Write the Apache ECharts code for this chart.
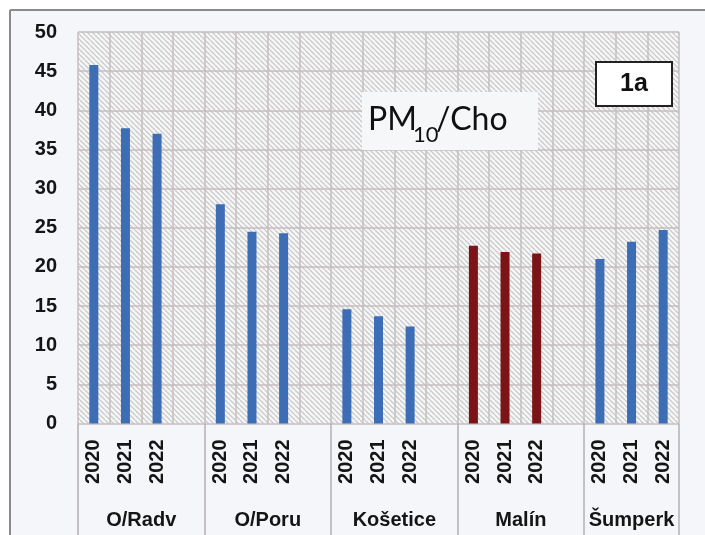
<!DOCTYPE html>
<html>
<head>
<meta charset="utf-8">
<script src="https://cdn.jsdelivr.net/npm/echarts@6/dist/echarts.min.js"></script>
<style>html,body{margin:0;padding:0;background:#fff}#c{width:705px;height:535px}</style>
</head>
<body>
<div id="c"></div>
<script>
// ---- data ----
const groups = ['O/Radv', 'O/Poru', 'Košetice', 'Malín', 'Šumperk'];
const years = ['2020', '2021', '2022'];
const valRadv = [45.8, 37.7, 37.0];
const valPoru = [28.0, 24.5, 24.3];
const valKosetice = [14.6, 13.7, 12.4];
const valMalin = [22.7, 21.9, 21.7];
const valSumperk = [21.0, 23.2, 24.7];
const yTicks = [0, 5, 10, 15, 20, 25, 30, 35, 40, 45, 50];
const highlightGroup = 'Malín';

const groupValues = [valRadv, valPoru, valKosetice, valMalin, valSumperk];

// build slots: 3 years per group + an empty spacer between groups
const cats = [];
const barData = [];
const groupStart = [];
const groupCenter = [];
groups.forEach((g, gi) => {
  groupStart.push(cats.length);
  years.forEach((y, yi) => {
    cats.push(g + '|' + y);
    barData.push({
      value: groupValues[gi][yi],
      itemStyle: { color: g === highlightGroup ? '#7a1416' : '#3d6db5' }
    });
  });
  if (gi < groups.length - 1) {
    cats.push(g + '|');
    barData.push('-');
    groupCenter.push(groupStart[gi] + 2);
  } else {
    groupCenter.push(groupStart[gi] + 1.5);
  }
});
const nSlots = cats.length;
const dividers = groupStart.concat([nSlots]);

// hatch pattern
const pc = document.createElement('canvas');
pc.width = 5; pc.height = 5;
const px = pc.getContext('2d');
px.fillStyle = '#f6f7f8';
px.fillRect(0, 0, 5, 5);
px.strokeStyle = '#cbcaca';
px.lineWidth = 1.3;
for (let k = -5; k <= 10; k += 5) {
  px.beginPath();
  px.moveTo(k, 0);
  px.lineTo(k + 5, 5);
  px.stroke();
}

const chart = echarts.init(document.getElementById('c'), null, { renderer: 'canvas' });
const gridColor = '#c6bebe';
chart.setOption({
  backgroundColor: '#ffffff',
  animation: false,
  graphic: [
    { type: 'rect', z: -10, shape: { x: 10, y: 10, width: 700, height: 530 },
      style: { fill: '#f4f6f9' } },
    { type: 'line', z: 100, shape: { x1: 10, y1: 10, x2: 705, y2: 10 },
      style: { stroke: '#8a8a8a', lineWidth: 2 } },
    { type: 'line', z: 100, shape: { x1: 10, y1: 10, x2: 10, y2: 535 },
      style: { stroke: '#8a8a8a', lineWidth: 2 } },
    { type: 'rect', z: 50, shape: { x: 362, y: 92, width: 176, height: 58 },
      style: { fill: '#f5f7f9' } },
    { type: 'text', z: 51, style: { text: 'PM', x: 368, y: 136, font: '32px Lato', fill: '#111', verticalAlign: 'bottom' } },
    { type: 'text', z: 51, style: { text: '10', x: 413, y: 146, font: '22px Lato', fill: '#111', verticalAlign: 'bottom' } },
    { type: 'text', z: 51, style: { text: '/Cho', x: 436, y: 136, font: '32px Lato', fill: '#111', verticalAlign: 'bottom' } },
    { type: 'rect', z: 50, shape: { x: 596, y: 62, width: 76, height: 44 },
      style: { fill: '#ffffff', stroke: '#222', lineWidth: 2 } },
    { type: 'text', z: 51, style: { text: '1a', x: 634, y: 84, font: 'bold 25px "Liberation Sans"', fill: '#111', align: 'center', verticalAlign: 'middle' } }
  ],
  grid: {
    left: 78, right: 26, top: 32, bottom: 111.5,
    show: true, borderWidth: 0,
    backgroundColor: { image: pc, repeat: 'repeat' }
  },
  xAxis: [
    {
      type: 'category', data: cats, position: 'bottom',
      axisLine: { show: false }, axisTick: { show: false },
      splitLine: { show: true, lineStyle: { color: gridColor, width: 1.5 } },
      axisLabel: {
        interval: 0, rotate: 90, margin: 16,
        fontFamily: 'Liberation Sans', fontWeight: 'bold', fontSize: 20, color: '#151515',
        formatter: v => v.split('|')[1]
      }
    },
    {
      type: 'value', min: 0, max: nSlots, position: 'bottom',
      axisLine: { show: false },
      splitLine: { show: false },
      axisTick: { show: true, customValues: dividers, length: 112, lineStyle: { color: '#b5b0b0', width: 1.5 } },
      axisLabel: {
        customValues: groupCenter, margin: 87,
        fontFamily: 'Liberation Sans', fontWeight: 'bold', fontSize: 20, color: '#151515',
        formatter: v => groups[groupCenter.indexOf(v)] || ''
      }
    }
  ],
  yAxis: {
    type: 'value', min: yTicks[0], max: yTicks[yTicks.length - 1], interval: 5,
    axisLine: { show: false }, axisTick: { show: false },
    splitLine: { show: true, lineStyle: { color: gridColor, width: 1.5 } },
    axisLabel: { margin: 21, fontFamily: 'Liberation Sans', fontWeight: 'bold', fontSize: 20, color: '#151515' }
  },
  series: [{
    type: 'bar', xAxisIndex: 0, data: barData, barWidth: 9
  }]
});
</script>
</body>
</html>
